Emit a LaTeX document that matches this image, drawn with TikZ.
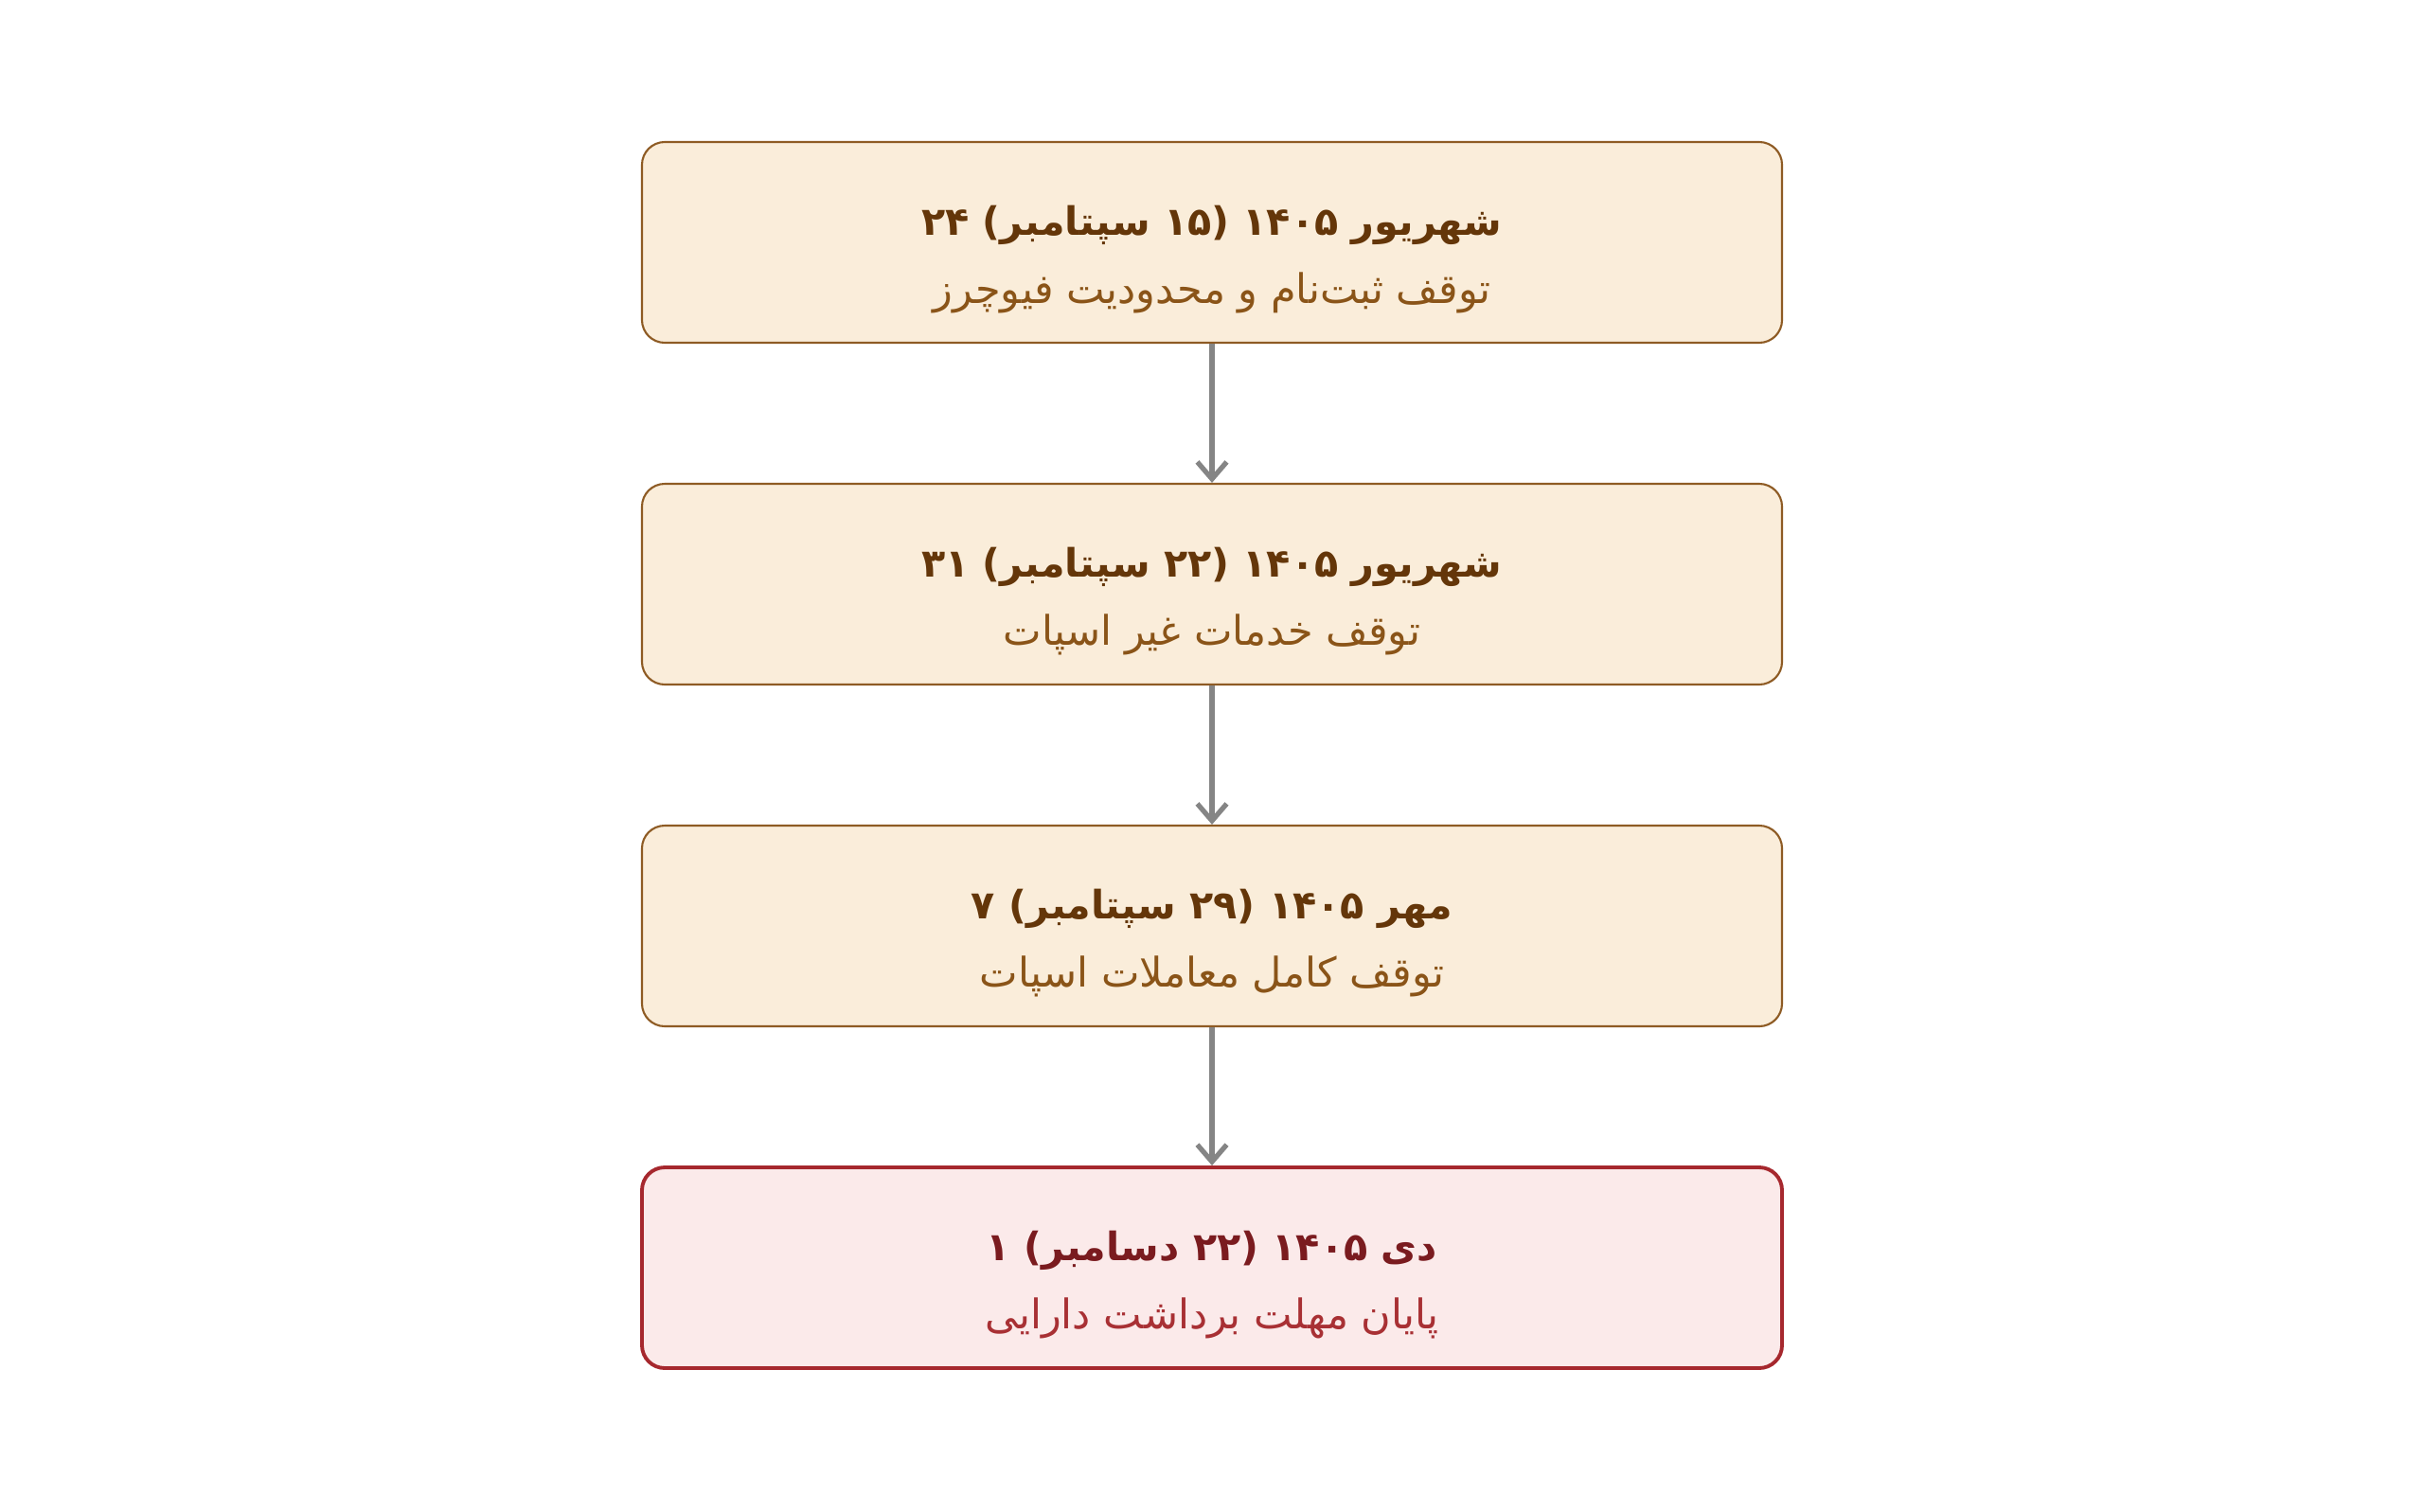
\documentclass[tikz,border=0pt]{standalone}
\usepackage{fontspec}
\usetikzlibrary{arrows.meta}
\TeXXeTstate=1
\newfontfamily\fa[Script=Arabic]{DejaVu Sans}
\definecolor{fillA}{HTML}{FAEDDA}
\definecolor{lineA}{HTML}{8E5B24}
\definecolor{titleA}{HTML}{643609}
\definecolor{subA}{HTML}{8A5418}
\definecolor{fillB}{HTML}{FBEAEA}
\definecolor{lineB}{HTML}{A6282E}
\definecolor{titleB}{HTML}{7A1B1F}
\definecolor{subB}{HTML}{A83034}
\definecolor{arrowgray}{HTML}{858585}
\tikzset{
  stagebox/.style={draw=lineA, fill=fillA, line width=1.2pt, rounded corners=0.48cm,
    minimum width=24.08cm, minimum height=4.24cm, inner sep=0pt},
  finalbox/.style={stagebox, draw=lineB, fill=fillB, line width=2.2pt},
  titletext/.style={font=\fa\bfseries\fontsize{23.5}{28}\selectfont, text=titleA, inner sep=0pt, anchor=base},
  subtext/.style={font=\fa\fontsize{24.5}{29}\selectfont, text=subA, inner sep=0pt, anchor=base},
  flow/.style={draw=arrowgray, line width=3pt, -{Straight Barb[length=0.36cm,width=0.62cm,line width=3pt]}}
}
\begin{document}
\begin{tikzpicture}
\useasboundingbox (0,0) rectangle (51.2,-31.92);
\node[stagebox] (b1) at (25.6,-5.12) {};
\node[stagebox] (b2) at (25.6,-12.34) {};
\node[stagebox] (b3) at (25.6,-19.56) {};
\node[finalbox] (b4) at (25.6,-26.78) {};
\node[titletext] (t1) at ([yshift=0.16cm]b1.center) {\beginR شهریور ۱۴۰۵ \mbox{(}۱۵ سپتامبر\mbox{)} ۲۴\endR};
\node[subtext] (s1) at ([yshift=-1.28cm]b1.center) {\beginR توقف ثبت‌نام و محدودیت فیوچرز\endR};
\node[titletext] (t2) at ([yshift=0.16cm]b2.center) {\beginR شهریور ۱۴۰۵ \mbox{(}۲۲ سپتامبر\mbox{)} ۳۱\endR};
\node[subtext] (s2) at ([yshift=-1.28cm]b2.center) {\beginR توقف خدمات غیر اسپات\endR};
\node[titletext] (t3) at ([yshift=0.16cm]b3.center) {\beginR مهر ۱۴۰۵ \mbox{(}۲۹ سپتامبر\mbox{)} ۷\endR};
\node[subtext] (s3) at ([yshift=-1.28cm]b3.center) {\beginR توقف کامل معاملات اسپات\endR};
\node[titletext, text=titleB] (t4) at ([yshift=0.16cm]b4.center) {\beginR دی ۱۴۰۵ \mbox{(}۲۲ دسامبر\mbox{)} ۱\endR};
\node[subtext, text=subB] (s4) at ([yshift=-1.28cm]b4.center) {\beginR پایان مهلت برداشت دارایی\endR};
\draw[flow] (b1.south) -- (b2.north);
\draw[flow] (b2.south) -- (b3.north);
\draw[flow] (b3.south) -- (b4.north);
\end{tikzpicture}
\end{document}
